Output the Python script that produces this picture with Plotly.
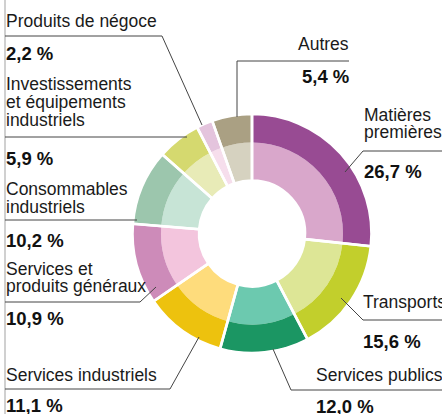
import plotly.graph_objects as go

# ---- data ----
categories = ["Matières premières", "Transports", "Services publics", "Services industriels",
              "Services et produits généraux", "Consommables industriels",
              "Investissements et équipements industriels", "Produits de négoce", "Autres"]
values = [26.7, 15.6, 12.0, 11.1, 10.9, 10.2, 5.9, 2.2, 5.4]
pct_labels = ["26,7 %", "15,6 %", "12,0 %", "11,1 %", "10,9 %", "10,2 %", "5,9 %", "2,2 %", "5,4 %"]
label_lines = [["Matières", "premières"], ["Transports"], ["Services publics"], ["Services industriels"],
               ["Services et", "produits généraux"], ["Consommables", "industriels"],
               ["Investissements", "et équipements", "industriels"], ["Produits de négoce"], ["Autres"]]
outer_colors = ["#984B93", "#C2CF2C", "#1B9663", "#EDC20E", "#CD8BB9", "#9CC6AD", "#D5D96F", "#E4C4DD", "#AAA083"]
inner_colors = ["#D9A7CB", "#DDE696", "#6CC9AF", "#FEDC7C", "#F3C5DD", "#C7E4D6", "#E8EBB7", "#F6DEEC", "#D6D2C0"]

W, H = 442, 414
CX, CY = 252, 233.5
R_OUT, R_MID, R_IN = 119, 91, 53.5

def px(x):
    return x / W

def py(y):
    return 1 - y / H

def dom(r):
    return dict(x=[px(CX - r), px(CX + r)], y=[py(CY + r), py(CY - r)])

fig = go.Figure()
common = dict(labels=categories, values=values, sort=False, direction="clockwise", rotation=0,
              textinfo="none", hoverinfo="skip", showlegend=False)
fig.add_trace(go.Pie(**common, domain=dom(R_MID), hole=R_IN / R_MID,
                     marker=dict(colors=inner_colors, line=dict(width=0))))
fig.add_trace(go.Pie(**common, domain=dom(R_OUT), hole=R_MID / R_OUT,
                     marker=dict(colors=outer_colors, line=dict(width=0))))
# white separators across both rings
fig.add_trace(go.Pie(**common, domain=dom(R_OUT + 0.5), hole=(R_IN - 0.5) / (R_OUT + 0.5),
                     marker=dict(colors=["rgba(0,0,0,0)"] * len(values), line=dict(width=2.6, color="white"))))

FONT = "Liberation Sans, Arial, sans-serif"
LS, NS = 17.5, 18.5
annotations = []
shapes = []

def txt(s, x, baseline, anchor, bold=False):
    size = NS if bold else LS
    annotations.append(dict(text=f"<b>{s}</b>" if bold else s, x=px(x), y=py(baseline - 0.32 * size),
                            xref="paper", yref="paper", xanchor=anchor, yanchor="middle",
                            showarrow=False, font=dict(family=FONT, size=size, color="#1a1a1a" if not bold else "#111")))

def path(points):
    d = "M " + " L ".join(f"{px(x)},{py(y)}" for x, y in points)
    shapes.append(dict(type="path", path=d, xref="paper", yref="paper",
                       line=dict(color="#444", width=1)))

# left rule
shapes.append(dict(type="line", x0=px(5), x1=px(5), y0=0, y1=1, xref="paper", yref="paper",
                   line=dict(color="#d0d0d0", width=2), layer="above"))

# label layout: (index, x, anchor, baselines of text lines, baseline of pct, leader path)
layout_spec = [
    (7, 4, "left", [27], 59, [(5, 36), (162, 36), (202, 125)]),
    (6, 4, "left", [90, 108, 126], 164, [(5, 137), (187, 137)]),
    (5, 4, "left", [195, 213], 246, [(5, 220), (137, 220)]),
    (4, 4, "left", [275, 292], 324, [(5, 302), (140, 302), (156, 287)]),
    (3, 4, "left", [381], 411, [(5, 389), (170, 389), (199, 337)]),
    (2, 314, "left", [381], 412, [(442, 390), (291, 390), (273, 349)]),
    (1, 361, "left", [308], 347, [(442, 320), (363, 320), (341, 298)]),
    (0, 362, "left", [121, 138], 177, [(442, 151), (363, 151), (345, 172)]),
    (8, 351, "right", [50], 82, [(349, 61), (237, 61), (237, 117)]),
]
for idx, x, anchor, bls, pbl, pts in layout_spec:
    for line, bl in zip(label_lines[idx], bls):
        txt(line, x, bl, anchor)
    txt(pct_labels[idx], x, pbl, anchor, bold=True)
    path(pts)

fig.update_layout(width=W, height=H, margin=dict(l=0, r=0, t=0, b=0),
                  paper_bgcolor="white", plot_bgcolor="white",
                  annotations=annotations, shapes=shapes)
fig.write_html("out.html", config={"displayModeBar": False},
               post_script="document.body.style.margin='0';document.body.style.overflow='hidden';")
